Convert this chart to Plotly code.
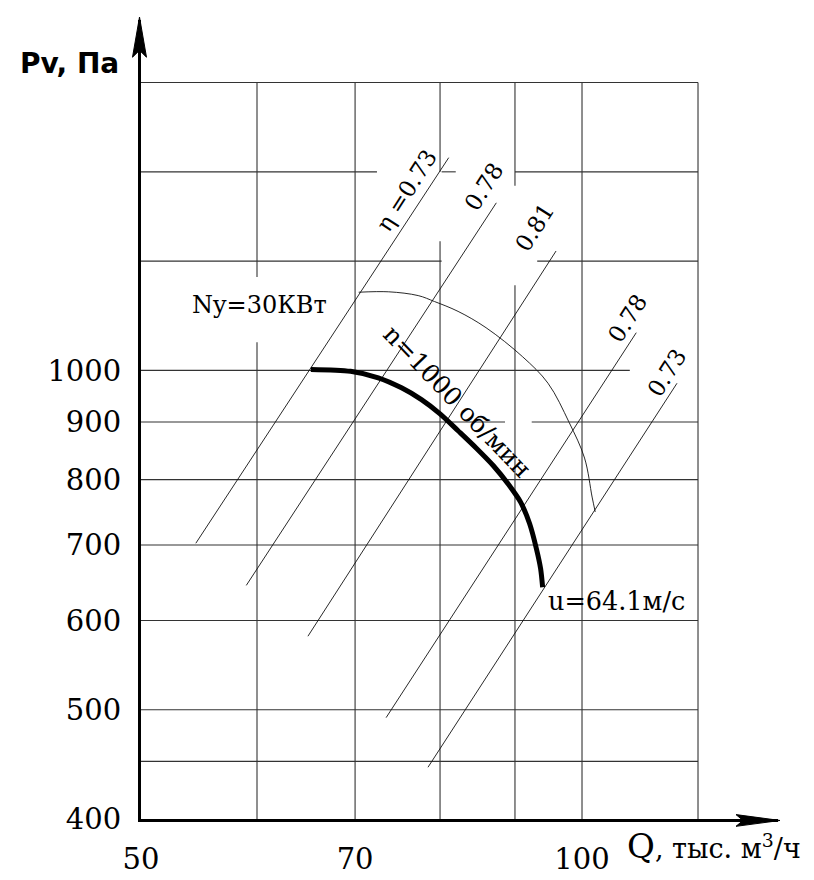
import math
import plotly.graph_objects as go

# ---------------- data ----------------
# Fan characteristic n=1000 rpm: Q (thousand m3/h), Pv (Pa)
q_curve = [65.3, 69.5, 72.6, 75.3, 77.7, 80.0, 82.3, 84.7, 87.0, 89.1, 90.8, 92.1, 93.1, 93.7, 94.0]
p_curve = [1002, 998, 985, 965, 942, 915, 884, 853, 823, 792, 764, 731, 694, 667, 642]

# Power limit arc Ny = 30 kW
q_power = [70.4, 73.8, 77.3, 79.3, 82.3, 86.0, 91.1, 94.8, 98.0, 100.4, 101.6, 102.1]
p_power = [1173, 1174, 1165, 1151, 1128, 1091, 1028, 974, 899, 836, 772, 749]

# Efficiency lines (straight on log-log)
eff_labels = ["η =0.73", "0.78", "0.81", "0.78", "0.73"]
eff_q_start = [54.5, 59.0, 65.0, 73.5, 78.5]
eff_q_end = [81.1, 87.4, 96.0, 108.9, 116.1]
eff_p_start = [702.5, 644.6, 581.0, 492.0, 444.6]
eff_p_end = [1544, 1408, 1276, 1080, 974]

# Grid
grid_q = [60, 70, 80, 90, 100, 120]
grid_p = [450, 500, 600, 700, 800, 900, 1000, 1250, 1500, 1800]
grid_q_min, grid_q_max = 50, 120
grid_p_min, grid_p_max = 400, 1800
# gaps left in the grid for the labels
h_gaps = {1500: [(72.45, 80.2), (82.0, 90.0)], 1250: [(80.2, 93.2)],
          1000: [(107.8, 120.0)], 900: [(88.6, 92.4)]}
v_gaps = {60: [(1059, 1210)], 80: [(1302, 1500)], 90: [(1190, 1458)]}

x_tick_vals = [50, 70, 100]
x_tick_text = ["50", "70", "100"]
y_tick_vals = [400, 500, 600, 700, 800, 900, 1000]
y_tick_text = ["400", "500", "600", "700", "800", "900", "1000"]

# ---------------- layout geometry ----------------
FW, FH = 814, 880
L, R, T, B = 133, 770, 12, 828
W, H = R - L, B - T
PX_DEC_X = 1465.0
PX_DEC_Y = 1151.4
x_range = [math.log10(50), math.log10(50) + W / PX_DEC_X]
y_range = [math.log10(400), math.log10(400) + H / PX_DEC_Y]


def pp(px, py):
    return (px - L) / W, (B - py) / H


def segments(a0, a1, gaps):
    segs, cur = [], a0
    for g0, g1 in sorted(gaps):
        segs.append((cur, g0))
        cur = g1
    segs.append((cur, a1))
    return [s for s in segs if s[1] > s[0]]


SERIF = "DejaVu Serif"
fig = go.Figure()

# grid lines
gx, gy = [], []
for p in grid_p:
    for s0, s1 in segments(grid_q_min, grid_q_max, h_gaps.get(p, [])):
        gx += [s0, s1, None]
        gy += [p, p, None]
for q in grid_q:
    for s0, s1 in segments(grid_p_min, grid_p_max, v_gaps.get(q, [])):
        gx += [q, q, None]
        gy += [s0, s1, None]
fig.add_trace(go.Scatter(x=gx, y=gy, mode="lines", line=dict(color="#333", width=1.1),
                         hoverinfo="skip", showlegend=False))

# efficiency lines
ex, ey = [], []
for a, b, c, d in zip(eff_q_start, eff_q_end, eff_p_start, eff_p_end):
    ex += [a, b, None]
    ey += [c, d, None]
fig.add_trace(go.Scatter(x=ex, y=ey, mode="lines", line=dict(color="#111", width=0.9),
                         hoverinfo="skip", showlegend=False))

# power arc
fig.add_trace(go.Scatter(x=q_power, y=p_power, mode="lines",
                         line=dict(color="#111", width=0.9, shape="spline"),
                         hoverinfo="skip", showlegend=False))

# fan curve
fig.add_trace(go.Scatter(x=q_curve, y=p_curve, mode="lines",
                         line=dict(color="#000", width=5, shape="spline", smoothing=0.8),
                         hoverinfo="skip", showlegend=False))

annotations = []


def text(px, py, s, size, angle=0, family=SERIF, xanchor="center"):
    x, y = pp(px, py)
    annotations.append(dict(x=x, y=y, xref="paper", yref="paper", text=s, showarrow=False,
                            textangle=angle, xanchor=xanchor, yanchor="middle",
                            font=dict(family=family, size=size, color="#000")))


eff_label_pos = [(399, 186), (476, 183), (526, 224), (619, 317), (659, 373)]
for lab, (px, py) in zip(eff_labels, eff_label_pos):
    text(px, py, lab, 23, angle=-57.5)

text(251, 303, "Ny=30КВт", 24)
text(449, 402, "n=1000 об/мин", 25, angle=46)
text(608, 605, "u=64.1м/с", 25.5)
text(61, 56, "<b>Pv, Па</b>", 28, family="DejaVu Sans")
text(617, 856, "<span style='font-size:34px'>Q</span>, тыс. м<sup>3</sup>/ч", 27, xanchor="left")


# arrowheads (paper coordinates from pixel geometry)
def path(points):
    pts = [pp(a, b) for a, b in points]
    return "M " + " L ".join(f"{x:.5f},{y:.5f}" for x, y in pts) + " Z"


shapes = [
    dict(type="path", xref="paper", yref="paper",
         path=path([(131.5, 9), (124.5, 50), (131.5, 43), (138.5, 50)]),
         fillcolor="#000", line=dict(color="#000", width=1)),
    dict(type="path", xref="paper", yref="paper",
         path=path([(772, 829.5), (728, 823.5), (735, 829.5), (728, 835.5)]),
         fillcolor="#000", line=dict(color="#000", width=1)),
]

fig.update_layout(
    width=FW, height=FH,
    margin=dict(l=L, r=FW - R, t=T, b=FH - B),
    paper_bgcolor="white", plot_bgcolor="white",
    showlegend=False,
    annotations=annotations,
    shapes=shapes,
    xaxis=dict(type="log", range=x_range, showgrid=False, zeroline=False,
               showline=True, linecolor="#000", linewidth=3,
               tickmode="array", tickvals=x_tick_vals, ticktext=x_tick_text,
               ticks="", ticklabelstandoff=12,
               tickfont=dict(family=SERIF, size=29, color="#000")),
    yaxis=dict(type="log", range=y_range, showgrid=False, zeroline=False,
               showline=True, linecolor="#000", linewidth=3,
               tickmode="array", tickvals=y_tick_vals, ticktext=y_tick_text,
               ticks="", ticklabelstandoff=11,
               tickfont=dict(family=SERIF, size=29, color="#000")),
)

fig.write_html("out.html")
